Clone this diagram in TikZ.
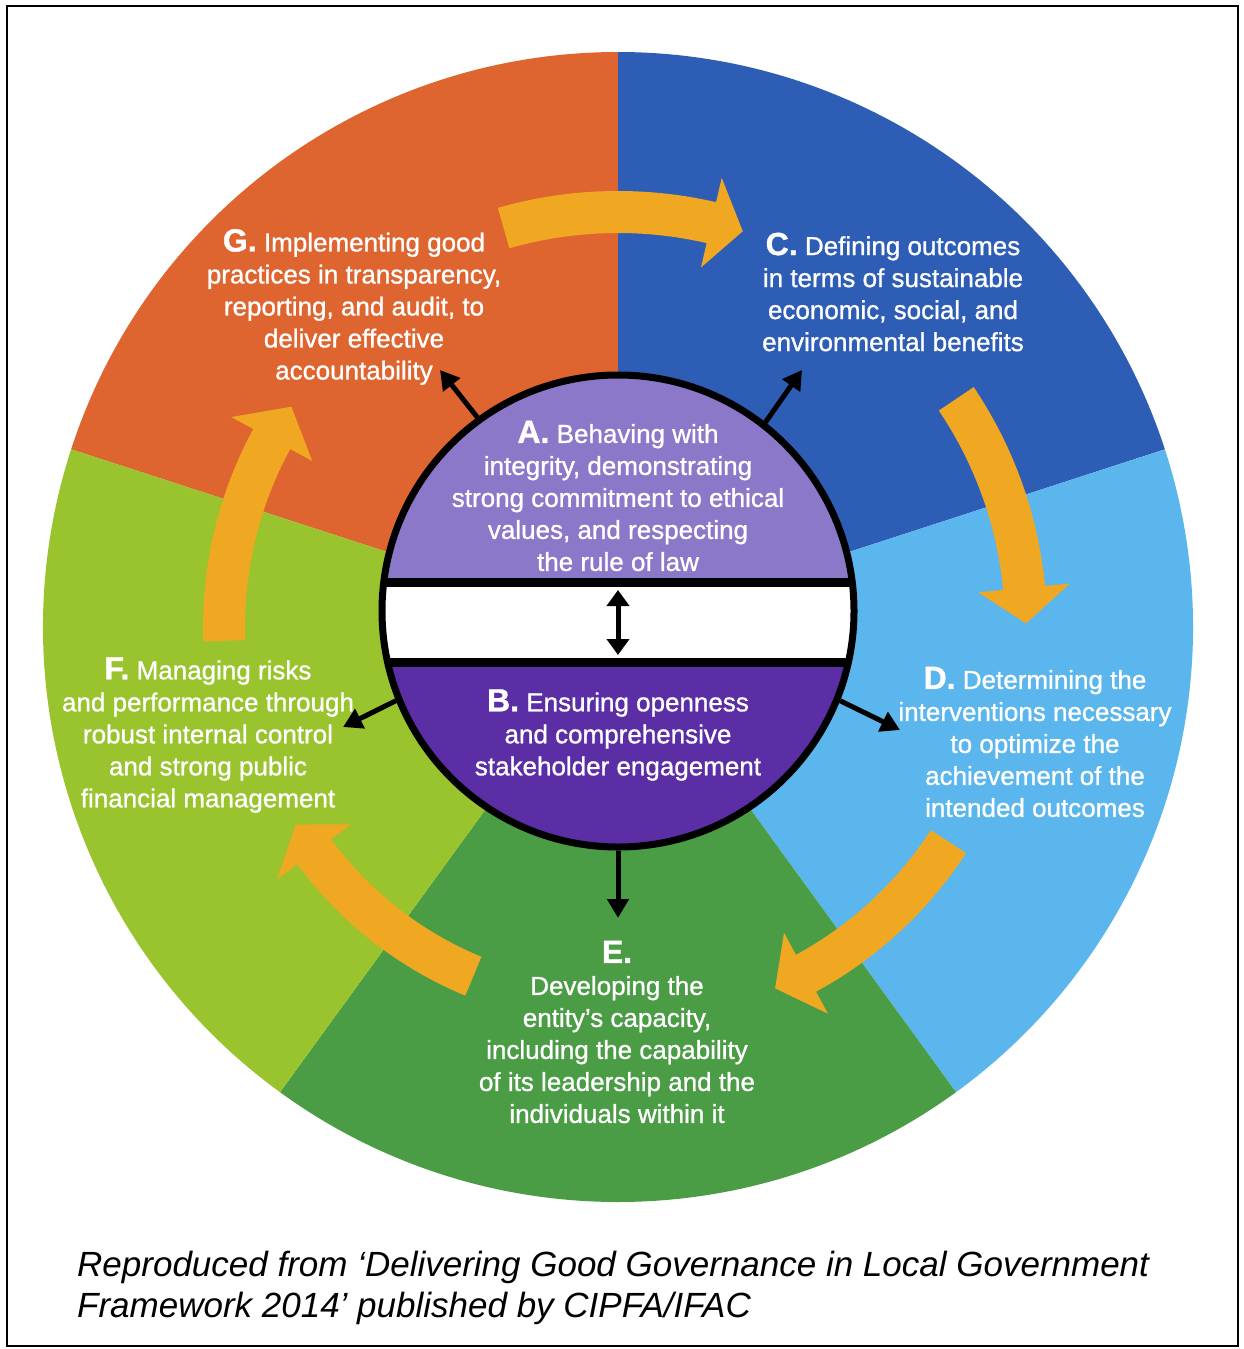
\documentclass[tikz,border=0pt]{standalone}
\usepackage{fontspec}
\setmainfont{Liberation Sans}
\newfontfamily\lblfont{Liberation Sans}[FakeBold=1]
\usetikzlibrary{arrows.meta}
\definecolor{cG}{RGB}{223,101,48}
\definecolor{cC}{RGB}{45,93,181}
\definecolor{cD}{RGB}{91,182,238}
\definecolor{cE}{RGB}{74,157,69}
\definecolor{cF}{RGB}{153,196,45}
\definecolor{cA}{RGB}{140,120,200}
\definecolor{cB}{RGB}{91,46,165}
\definecolor{arrowc}{RGB}{240,168,34}
\tikzset{
  lbl/.style={text=white, align=center, inner sep=0pt, font=\lblfont\fontsize{26}{32}\selectfont},
  blk/.style={line width=5pt, -{Triangle[width=21pt,length=19pt]}},
  capt/.style={anchor=base west, inner sep=0pt, font=\fontsize{35}{42}\selectfont\itshape}
}
\newcommand\bigletter[1]{{\fontsize{32}{32}\selectfont\bfseries #1}}
\newcommand\fatarrow[4]{%
  \pgfmathsetmacro\ro{#1+21}\pgfmathsetmacro\ri{#1-21}%
  \pgfmathsetmacro\rh{#1+46}\pgfmathsetmacro\rl{#1-46}%
  \fill[arrowc] (#2:\ro) arc[start angle=#2,end angle=#3,radius=\ro]
    -- (#3:\rh) -- (#4:#1) -- (#3:\rl) -- (#3:\ri)
    arc[start angle=#3,end angle=#2,radius=\ri] -- cycle;}
\begin{document}
\begin{tikzpicture}[x=1pt,y=1pt]
\useasboundingbox (0,0) rectangle (1244,-1349);
\fill[white] (0,0) rectangle (1244,-1349);
\draw[line width=2.5pt] (7,-6) rectangle (1238,-1346);
% outer sectors
\begin{scope}[shift={(618,-627)}]
  \fill[cG] (0,0) -- (90:575) arc[start angle=90,end angle=162,radius=575] -- cycle;
  \fill[cC] (0,0) -- (18:575) arc[start angle=18,end angle=90,radius=575] -- cycle;
  \fill[cD] (0,0) -- (-54:575) arc[start angle=-54,end angle=18,radius=575] -- cycle;
  \fill[cE] (0,0) -- (-126:575) arc[start angle=-126,end angle=-54,radius=575] -- cycle;
  \fill[cF] (0,0) -- (162:575) arc[start angle=162,end angle=234,radius=575] -- cycle;
  % orange flow arrows
  \fatarrow{415}{106}{77}{72.5}
  \fatarrow{408}{34}{5.5}{0.5}
  \fatarrow{394}{-33}{-61.5}{-66.5}
  \fatarrow{378}{247.5}{216.5}{211.5}
  \fatarrow{394}{182}{151.5}{146}
\end{scope}
% inner circle
\begin{scope}
  \clip (618,-611) circle (236);
  \fill[cA] (618,-611) circle (236);
  \fill[cB] (370,-662) rectangle (870,-860);
  \fill[white] (370,-582) rectangle (870,-662);
  \draw[line width=9pt] (370,-582) -- (870,-582);
  \draw[line width=9pt] (370,-662) -- (870,-662);
\end{scope}
\node[circle, draw, line width=7pt, minimum size=472pt, inner sep=0pt] (core) at (618,-611) {};
% centre double arrow
\coordinate (dtop) at (618,-590);
\coordinate (dbot) at (618,-655);
\draw[line width=5pt, {Triangle[width=22pt,length=16pt]}-{Triangle[width=22pt,length=16pt]}] (dtop) -- (dbot);
% outward arrows
\coordinate (tG) at (440,-370);
\coordinate (tC) at (802,-370);
\coordinate (tD) at (900,-730);
\coordinate (tF) at (343,-727);
\coordinate (tE) at (618,-918);
\draw[blk] (core.126.4) -- (tG);
\draw[blk] (core.52.7) -- (tC);
\draw[blk] (core.-22.9) -- (tD);
\draw[blk] (core.202.9) -- (tF);
\draw[blk] (core.-90) -- (tE);
% labels
\node[lbl] (A) at (618,-496) {\bigletter{A.} Behaving with\\integrity, demonstrating\\strong commitment to ethical\\values, and respecting\\the rule of law};
\node[lbl] (B) at (618,-735) {\bigletter{B.} Ensuring openness\\and comprehensive\\stakeholder engagement};
\node[lbl] (G) at (354,-307) {\bigletter{G.} Implementing good\\practices in transparency,\\reporting, and audit, to\\deliver effective\\accountability};
\node[lbl] (C) at (893,-292) {\bigletter{C.} Defining outcomes\\in terms of sustainable\\economic, social, and\\environmental benefits};
\node[lbl] (D) at (1035,-742) {\bigletter{D.} Determining the\\interventions necessary\\to optimize the\\achievement of the\\intended outcomes};
\node[lbl] (F) at (208,-735) {\bigletter{F.} Managing risks\\and performance through\\robust internal control\\and strong public\\financial management};
\node[lbl] (E) at (617,-1032) {\bigletter{E.}\\Developing the\\entity’s capacity,\\including the capability\\of its leadership and the\\individuals within it};
% caption
\node[capt] (cap1) at (77,-1276) {Reproduced from ‘Delivering Good Governance in Local Government};
\node[capt] (cap2) at (77,-1317) {Framework 2014’ published by CIPFA/IFAC};
\end{tikzpicture}
\end{document}
